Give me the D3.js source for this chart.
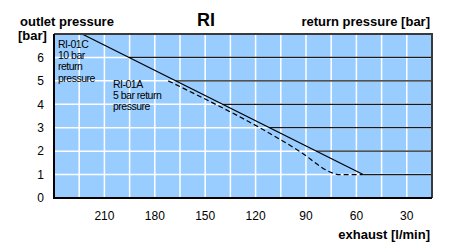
<!DOCTYPE html>
<html>
<head>
<meta charset="utf-8">
<script src="https://cdn.jsdelivr.net/npm/d3@7"></script>
<style>
  html, body { margin: 0; padding: 0; background: #fff; }
  svg { display: block; font-family: "Liberation Sans", Arial, Helvetica, sans-serif; }
</style>
</head>
<body>
<div id="chart"></div>
<script>
// values
const X_TICKS = [210, 180, 150, 120, 90, 60, 30];
const Y_TICKS = [0, 1, 2, 3, 4, 5, 6];
const X_GRID = [225, 210, 195, 180, 165, 150, 135, 120, 105, 90, 75, 60, 45, 30];
const Y_GRID = [1, 2, 3, 4, 5, 6];
const RETURN_LEVELS = [1, 2, 3, 4, 5, 6];

// RI-01C, 10 bar return pressure (solid)
const curve10 = [[223.3, 7], [56, 1]];
// RI-01A, 5 bar return pressure (dashed)
const curve5 = [[172, 5], [94, 2], [74, 1.06], [71, 1], [56, 1]];

const W = 449, H = 242;
const m = { left: 54, top: 34, right: 17, bottom: 44 };

const svg = d3.select("#chart").append("svg")
  .attr("width", W).attr("height", H);

const x = d3.scaleLinear().domain([240, 15]).range([m.left, W - m.right]);
const y = d3.scaleLinear().domain([0, 7]).range([H - m.bottom, m.top]);

// plot background
svg.append("rect")
  .attr("x", x(240)).attr("y", y(7))
  .attr("width", x(15) - x(240)).attr("height", y(0) - y(7))
  .attr("fill", "#99ccff");

// white grid
svg.append("g").selectAll("line").data(X_GRID).join("line")
  .attr("x1", d => x(d)).attr("x2", d => x(d))
  .attr("y1", y(7)).attr("y2", y(0))
  .attr("stroke", "#fff").attr("stroke-width", 1.5);
svg.append("g").selectAll("line").data(Y_GRID).join("line")
  .attr("x1", x(240)).attr("x2", x(15))
  .attr("y1", d => y(d)).attr("y2", d => y(d))
  .attr("stroke", "#fff").attr("stroke-width", 1.5);

// return pressure levels: from the 10 bar curve to the right edge
const solidAt = d3.scaleLinear().domain(curve10.map(d => d[1])).range(curve10.map(d => d[0]));
svg.append("g").selectAll("line").data(RETURN_LEVELS).join("line")
  .attr("x1", d => x(Math.min(240, solidAt(d)))).attr("x2", x(15))
  .attr("y1", d => y(d)).attr("y2", d => y(d))
  .attr("stroke", "#1a1a1a").attr("stroke-width", 1.2);

const line = d3.line().x(d => x(d[0])).y(d => y(d[1]));
const clip = svg.append("clipPath").attr("id", "clip").append("rect")
  .attr("x", x(240)).attr("y", y(7))
  .attr("width", x(15) - x(240)).attr("height", y(0) - y(7));

svg.append("path").datum(curve10).attr("d", line)
  .attr("clip-path", "url(#clip)")
  .attr("fill", "none").attr("stroke", "#000").attr("stroke-width", 1.2);
svg.append("path").datum(curve5).attr("d", d3.line().curve(d3.curveMonotoneX).x(d => x(d[0])).y(d => y(d[1])))
  .attr("fill", "none").attr("stroke", "#000").attr("stroke-width", 1.2)
  .attr("stroke-dasharray", "5,3");

// frame: top/right dark grey, left/bottom black axes
svg.append("path")
  .attr("d", `M${x(240)},${y(7)}H${x(15)}V${y(0)}`)
  .attr("fill", "none").attr("stroke", "#3a3a3a").attr("stroke-width", 2);
svg.append("path")
  .attr("d", `M${x(240)},${y(7)}V${y(0)}H${x(15)}`)
  .attr("fill", "none").attr("stroke", "#000").attr("stroke-width", 2);

// tick labels
svg.append("g").selectAll("text").data(Y_TICKS).join("text")
  .attr("x", 44).attr("y", d => y(d)).attr("dy", "0.36em")
  .attr("text-anchor", "end").attr("font-size", 12).text(d => d);
svg.append("g").selectAll("text").data(X_TICKS).join("text")
  .attr("x", d => x(d)).attr("y", 220)
  .attr("text-anchor", "middle").attr("font-size", 12).text(d => d);

// titles
const bold = (t, px, py, anchor, size) => svg.append("text")
  .attr("x", px).attr("y", py).attr("text-anchor", anchor)
  .attr("font-size", size).attr("font-weight", "bold").text(t);
bold("outlet pressure", 20, 26, "start", 13);
bold("[bar]", 18, 40, "start", 13);
bold("RI", 206, 26, "middle", 18);
bold("return pressure [bar]", 430, 26, "end", 13);
bold("exhaust [l/min]", 430, 239, "end", 13);

// curve annotations
const note = (lines, px, py) => {
  const t = svg.append("text").attr("x", px).attr("y", py)
    .attr("font-size", 10.5).attr("letter-spacing", "-0.5");
  lines.forEach((s, i) => t.append("tspan").attr("x", px).attr("dy", i ? 11.2 : 0).text(s));
};
note(["RI-01C", "10 bar", "return", "pressure"], 58, 48);
note(["RI-01A", "5 bar return", "pressure"], 113, 88);
</script>
</body>
</html>
